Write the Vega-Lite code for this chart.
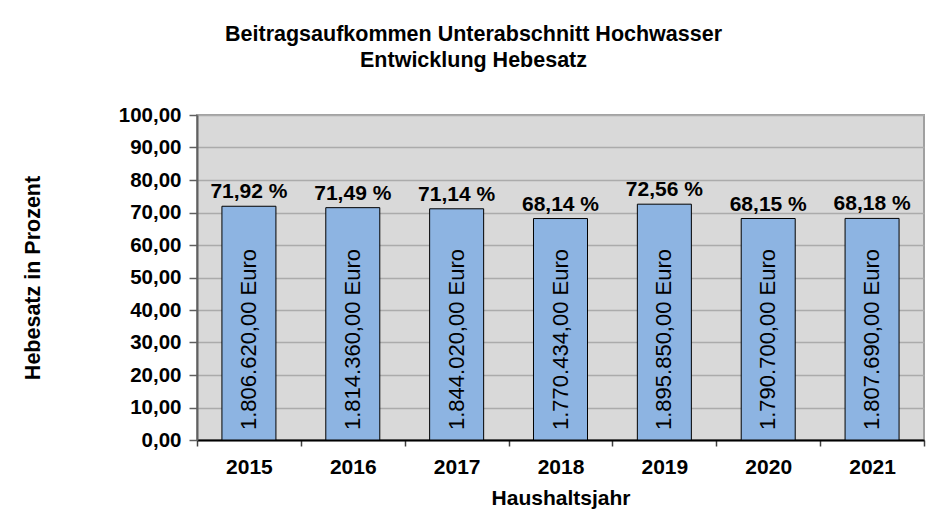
{
  "$schema": "https://vega.github.io/schema/vega-lite/v6.json",
  "width": 727,
  "height": 325,
  "autosize": {"type": "none"},
  "padding": {"left": 197, "top": 115, "right": 22, "bottom": 89},
  "background": "white",
  "config": {
    "font": "Liberation Sans",
    "view": {"fill": "#d9d9d9", "stroke": "#a0a0a0", "strokeWidth": 2}
  },
  "title": {
    "text": ["Beitragsaufkommen Unterabschnitt Hochwasser", "Entwicklung Hebesatz"],
    "fontSize": 21.5,
    "fontWeight": "bold",
    "color": "black",
    "anchor": "middle",
    "frame": "bounds",
    "lineHeight": 26,
    "offset": 34
  },
  "data": {
    "values": [
      {"jahr": "2015", "hebesatz": 71.92, "label": "71,92 %", "betrag": "1.806.620,00  Euro"},
      {"jahr": "2016", "hebesatz": 71.49, "label": "71,49 %", "betrag": "1.814.360,00  Euro"},
      {"jahr": "2017", "hebesatz": 71.14, "label": "71,14 %", "betrag": "1.844.020,00  Euro"},
      {"jahr": "2018", "hebesatz": 68.14, "label": "68,14 %", "betrag": "1.770.434,00  Euro"},
      {"jahr": "2019", "hebesatz": 72.56, "label": "72,56 %", "betrag": "1.895.850,00  Euro"},
      {"jahr": "2020", "hebesatz": 68.15, "label": "68,15 %", "betrag": "1.790.700,00  Euro"},
      {"jahr": "2021", "hebesatz": 68.18, "label": "68,18 %", "betrag": "1.807.690,00  Euro"}
    ]
  },
  "encoding": {
    "x": {
      "field": "jahr",
      "type": "ordinal",
      "scale": {"paddingInner": 0, "paddingOuter": 0},
      "axis": {
        "title": "Haushaltsjahr",
        "titleFontSize": 21,
        "titleFontWeight": "bold",
        "titleColor": "black",
        "titlePadding": 10,
        "labelAngle": 0,
        "labelFontSize": 21,
        "labelFontWeight": "bold",
        "labelColor": "black",
        "labelPadding": 10,
        "tickBand": "extent",
        "tickSize": 6,
        "tickColor": "#404040",
        "tickWidth": 1.5,
        "domainColor": "black",
        "domainWidth": 2
      }
    },
    "y": {
      "field": "hebesatz",
      "type": "quantitative",
      "scale": {"domain": [0, 100]},
      "axis": {
        "title": "Hebesatz in Prozent",
        "titleFontSize": 21.5,
        "titleFontWeight": "bold",
        "titleColor": "black",
        "titlePadding": 74,
        "values": [0, 10, 20, 30, 40, 50, 60, 70, 80, 90, 100],
        "labelExpr": "replace(format(datum.value, '.2f'), '.', ',')",
        "labelFontSize": 20.5,
        "labelFontWeight": "bold",
        "labelColor": "black",
        "labelPadding": 8,
        "tickSize": 8,
        "tickColor": "#606060",
        "tickWidth": 1.5,
        "domainColor": "#606060",
        "domainWidth": 2,
        "grid": true,
        "gridColor": "#ababab",
        "gridWidth": 1.5
      }
    }
  },
  "layer": [
    {
      "mark": {"type": "bar", "width": {"band": 0.52}, "fill": "#8db4e2", "stroke": "black", "strokeWidth": 1}
    },
    {
      "mark": {"type": "text", "baseline": "bottom", "dy": -4, "fontSize": 21, "fontWeight": "bold", "color": "black"},
      "encoding": {"text": {"field": "label"}}
    },
    {
      "mark": {"type": "text", "angle": 270, "align": "left", "baseline": "middle", "dx": 10, "fontSize": 22, "color": "black"},
      "encoding": {"y": {"datum": 0}, "text": {"field": "betrag"}}
    }
  ]
}
